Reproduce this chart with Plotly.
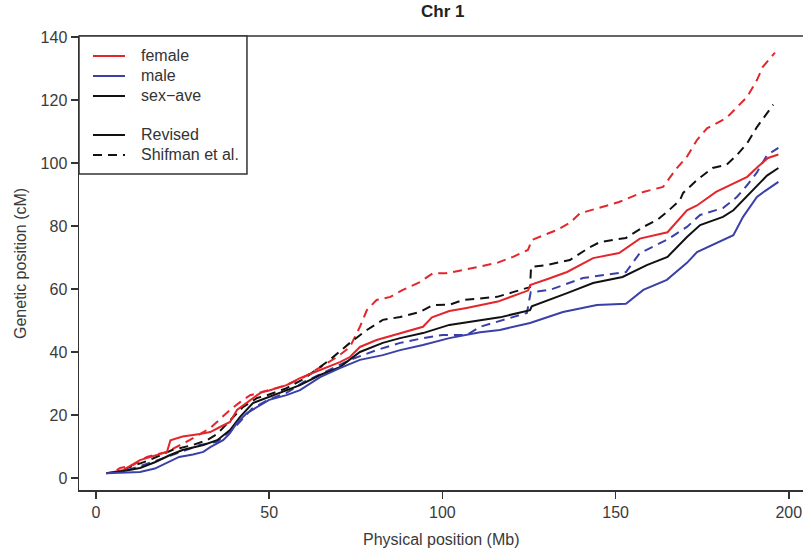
import plotly.graph_objects as go

# ---- data (Mb -> cM) ----
female_rev_x = [3, 7.8, 12.7, 17.6, 20.5, 21.5, 25, 30, 33, 35.8, 38.7, 40.7, 43.6, 46.5, 48, 50, 55, 58.9, 64.7, 70.4, 73.3, 76.2, 81, 87.8, 94.4, 97, 102, 107, 116, 124.7, 125.5, 130, 136, 143.5, 151, 157, 165, 170.6, 173.5, 179, 185, 188, 191, 194, 197]
female_rev_y = [1.5, 2.5, 5.7, 7.3, 8.3, 12, 13.2, 14, 14.6, 16.2, 17.8, 21.6, 24, 26.3, 27.3, 27.8, 29.5, 31.7, 34.3, 36.8, 38.4, 41.6, 43.8, 46, 48, 51, 53, 54, 56, 59.5, 61.3, 63, 65.4, 69.8, 71.4, 76, 78, 85, 86.5, 90.8, 94, 95.6, 98.7, 101.6, 102.7]

male_rev_x = [3, 8, 12.7, 17, 20.5, 24, 28, 31, 33, 36.7, 38.5, 40.7, 43.6, 46.5, 50, 55, 58.9, 64.7, 70.4, 76.2, 82.8, 87.8, 94.4, 102, 110.9, 116.6, 125.3, 134.8, 144.6, 153, 158, 164.8, 170.6, 173.5, 179.3, 184, 186.8, 190.8, 193, 197]
male_rev_y = [1.5, 1.6, 1.9, 3, 4.8, 6.7, 7.5, 8.3, 9.8, 12, 14, 17.5, 20.6, 22.5, 24.8, 26.3, 27.9, 32, 34.9, 37.5, 39, 40.6, 42.2, 44.4, 46.3, 47, 49.2, 52.7, 54.9, 55.3, 59.7, 62.9, 68.3, 71.7, 74.6, 77.1, 82.9, 89.2, 91, 94]

ave_rev_x = [3, 8, 12.7, 17, 21.4, 25, 31, 35, 38.7, 41.6, 45.3, 50, 55, 58.9, 64.7, 70.4, 76.2, 82.8, 87.8, 94.4, 102, 107, 116.6, 125.3, 125.8, 136, 143.5, 152, 159, 165, 170.6, 174.4, 181, 184, 186.8, 188.8, 193.7, 197]
ave_rev_y = [1.5, 2.2, 3.2, 5, 7.3, 8.9, 10.5, 12, 15.2, 19.4, 23.8, 25.7, 27.9, 29.5, 32.7, 35.2, 40, 42.9, 44.4, 46, 48.6, 49.5, 51, 53.3, 54.5, 58.7, 61.9, 63.8, 67.6, 70.2, 76.5, 80.3, 82.9, 85, 88.2, 90.5, 96, 98.4]

female_shif_x = [6, 7, 10.7, 14.7, 20.5, 27, 33, 38.7, 41.6, 44.5, 48, 55, 60, 64.7, 69.6, 73.3, 76.2, 78.2, 81, 85, 88.6, 93.5, 97.3, 101, 106, 115.8, 120.4, 124.7, 125.9, 133, 136.8, 139.7, 146.4, 151, 158, 163.7, 167.7, 170.6, 173.5, 176.4, 182, 185, 188, 190.8, 192.5, 196]
female_shif_y = [2.5, 3.2, 4.1, 6.7, 8.3, 12, 15.9, 21.6, 24.1, 26.3, 27.3, 29.5, 32, 35.2, 38.4, 41.6, 48, 53.3, 56.5, 57.5, 59.7, 62.2, 65, 65, 66, 68.3, 70.2, 72.4, 75.6, 78.7, 81, 84, 86, 87.6, 90.8, 92.4, 98.4, 102, 107.3, 111, 114.3, 117.8, 121, 126.3, 130.5, 135]

male_shif_x = [9, 12, 20, 25, 30, 35, 40, 45, 50, 55, 60, 65.5, 73.3, 81, 87.8, 94.4, 100, 107, 110.9, 124.4, 125.5, 131, 140.6, 153, 157, 164.8, 170.6, 174.4, 181, 185, 188, 190.8, 193.7, 197]
male_shif_y = [2.5, 3.5, 6.5, 8.5, 10.5, 11.5, 16, 22, 25, 27, 30.5, 33.3, 37.5, 40.6, 42.9, 44.4, 45.4, 45.4, 48, 52.4, 59, 59.7, 63.5, 65.4, 71.4, 75.6, 79.7, 83.5, 85.7, 89.2, 93, 97, 102.5, 104.8]

ave_shif_x = [8, 9, 15, 22, 28, 32, 35, 38.7, 42.4, 46.5, 50, 55, 60, 67.5, 73.3, 78.2, 82.8, 87.8, 93.5, 97.3, 102, 106, 115.8, 120.4, 125.3, 125.6, 130, 136.8, 142.6, 145.5, 153, 158, 162, 164.8, 168.6, 169.5, 173.5, 178, 182, 185, 188, 190.8, 193.7, 195.5]
ave_shif_y = [2.5, 3.2, 5.5, 8.9, 10.5, 12, 14, 18.4, 22.5, 25.4, 26.5, 28.5, 31.5, 37.5, 42.9, 47, 50.2, 51.1, 52.7, 54.9, 55, 56.5, 57.5, 59, 60.6, 67, 67.6, 69.2, 73.3, 74.9, 76.2, 79.7, 81.9, 84.4, 88.2, 90.5, 94.6, 98.4, 99.4, 102.5, 106.3, 111.4, 115.9, 118.5]

x_ticks = [0, 50, 100, 150, 200]
y_ticks = [0, 20, 40, 60, 80, 100, 120, 140]

legend_labels = ["female", "male", "sex\u2212ave", "Revised", "Shifman et al."]

RED = "#E3262B"
BLUE = "#3B40A8"
BLACK = "#111111"
AX = "#333333"
FONT = "Liberation Sans, Arial, sans-serif"
DASH = "9px,6px"

fig = go.Figure()
series = [
    (female_shif_x, female_shif_y, RED, DASH),
    (ave_shif_x, ave_shif_y, BLACK, DASH),
    (male_shif_x, male_shif_y, BLUE, DASH),
    (female_rev_x, female_rev_y, RED, "solid"),
    (ave_rev_x, ave_rev_y, BLACK, "solid"),
    (male_rev_x, male_rev_y, BLUE, "solid"),
]
for xs, ys, c, d in series:
    fig.add_trace(go.Scatter(x=xs, y=ys, mode="lines",
                             line=dict(color=c, width=2, dash=d),
                             showlegend=False, hoverinfo="skip"))

axis_common = dict(showline=True, linecolor=AX, linewidth=1.5, ticks="outside",
                   ticklen=7, tickwidth=1.5, tickcolor=AX, showgrid=False,
                   zeroline=False, tickfont=dict(family=FONT, size=16, color="#3a3a3a"))

fig.update_layout(
    width=803, height=550,
    margin=dict(l=79, r=0, t=36, b=60),
    paper_bgcolor="white", plot_bgcolor="white",
    xaxis=dict(range=[-4.9, 204.1], tickvals=x_ticks, **axis_common),
    yaxis=dict(range=[-3.8, 140.3], tickvals=y_ticks, **axis_common),
)

shapes = [
    dict(type="line", xref="paper", yref="paper", x0=0, x1=1, y0=1, y1=1,
         line=dict(color=AX, width=1.5)),
    dict(type="rect", xref="paper", yref="paper", x0=0, x1=0.232, y0=0.696, y1=1,
         line=dict(color=AX, width=1.5), fillcolor="white", layer="above"),
]
leg_y = [0.956, 0.912, 0.868, 0.782, 0.738]
leg_col = [RED, BLUE, BLACK, BLACK, BLACK]
leg_dash = ["solid", "solid", "solid", "solid", DASH]
annotations = []
for lab, yy, c, d in zip(legend_labels, leg_y, leg_col, leg_dash):
    shapes.append(dict(type="line", xref="paper", yref="paper", x0=0.0193, x1=0.0635,
                       y0=yy, y1=yy, line=dict(color=c, width=2, dash=d), layer="above"))
    annotations.append(dict(text=lab, xref="paper", yref="paper", x=0.0829, y=yy,
                            xanchor="left", yanchor="middle", showarrow=False,
                            font=dict(family=FONT, size=16, color="#333")))

annotations += [
    dict(text="<b>Chr 1</b>", xref="paper", yref="paper", x=0.502, y=1.053,
         xanchor="center", yanchor="middle", showarrow=False,
         font=dict(family=FONT, size=17, color="#222")),
    dict(text="Physical position (Mb)", xref="paper", yref="paper", x=0.501, y=-0.11,
         xanchor="center", yanchor="middle", showarrow=False,
         font=dict(family=FONT, size=16, color="#3a3a3a")),
    dict(text="Genetic position (cM)", xref="paper", yref="paper", x=-0.0815, y=0.5,
         xanchor="center", yanchor="middle", showarrow=False, textangle=-90,
         font=dict(family=FONT, size=16, color="#3a3a3a")),
]
fig.update_layout(shapes=shapes, annotations=annotations)

# remove the page's default 8px body margin so the figure fills the window exactly
fig.write_html("out.html",
               config={"displayModeBar": False, "staticPlot": True},
               post_script="document.body.style.margin='0';document.body.style.overflow='hidden';")
